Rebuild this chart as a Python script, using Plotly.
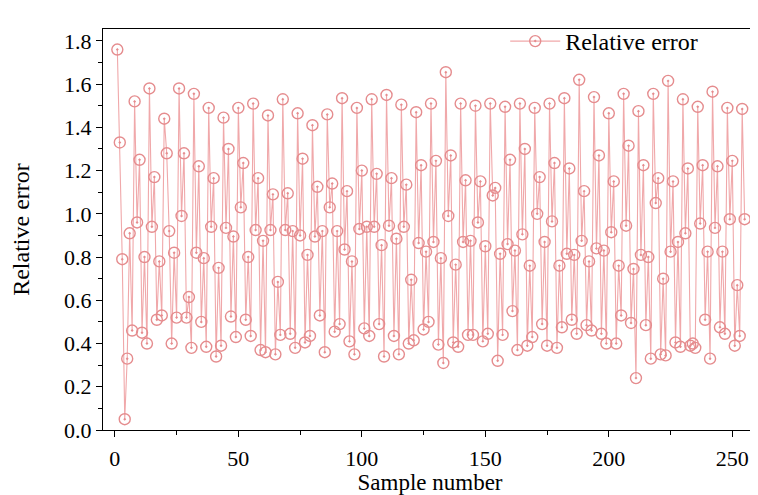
import plotly.graph_objects as go

sample_number = list(range(1, 256))

relative_error = [
    # 1-23
    1.76, 1.33, 0.79, 0.05, 0.33, 0.91, 0.46, 1.52, 0.96, 1.25, 0.45, 0.80, 0.40, 1.58, 0.94, 1.17, 0.51, 0.78, 0.53, 1.44, 1.28, 0.92, 0.40,
    # 24-50
    0.82, 0.52, 1.58, 0.99, 1.28, 0.52, 0.615, 0.38, 1.555, 0.82, 1.22, 0.50, 0.795, 0.385, 1.49, 0.94, 1.165, 0.34, 0.75, 0.39, 1.445, 0.935, 1.30, 0.525, 0.895, 0.43, 1.49,
    # 51-75
    1.03, 1.235, 0.51, 0.80, 0.435, 1.51, 0.925, 1.165, 0.37, 0.875, 0.36, 1.455, 0.925, 1.09, 0.35, 0.685, 0.44, 1.53, 0.925, 1.095, 0.445, 0.92, 0.38, 1.465, 0.90,
    # 76-101
    1.255, 0.405, 0.81, 0.435, 1.41, 0.895, 1.125, 0.53, 0.92, 0.36, 1.46, 1.03, 1.14, 0.455, 0.92, 0.49, 1.535, 0.835, 1.105, 0.41, 0.78, 0.35, 1.49, 0.93, 1.20, 0.47,
    # 102-128
    0.94, 0.435, 1.53, 0.94, 1.185, 0.49, 0.855, 0.34, 1.55, 0.945, 1.165, 0.435, 0.885, 0.35, 1.505, 0.94, 1.135, 0.40, 0.695, 0.415, 1.47, 0.865, 1.225, 0.465, 0.825, 0.50, 1.51,
    # 129-155
    0.87, 1.245, 0.395, 0.795, 0.31, 1.655, 0.99, 1.27, 0.405, 0.765, 0.385, 1.51, 0.87, 1.155, 0.44, 0.875, 0.44, 1.50, 0.96, 1.15, 0.41, 0.85, 0.445, 1.51, 1.085, 1.12, 0.32,
    # 156-180
    0.815, 0.44, 1.495, 0.86, 1.25, 0.55, 0.83, 0.37, 1.51, 0.905, 1.30, 0.39, 0.76, 0.43, 1.49, 1.00, 1.17, 0.49, 0.87, 0.39, 1.51, 0.965, 1.235, 0.38, 0.76,
    # 181-206
    0.475, 1.535, 0.815, 1.21, 0.51, 0.81, 0.445, 1.62, 0.875, 1.105, 0.485, 0.78, 0.46, 1.54, 0.84, 1.27, 0.445, 0.83, 0.40, 1.465, 0.915, 1.15, 0.40, 0.76, 0.53, 1.555,
    # 207-232
    0.945, 1.315, 0.495, 0.745, 0.24, 1.475, 0.81, 1.225, 0.485, 0.80, 0.33, 1.555, 1.05, 1.165, 0.35, 0.70, 0.345, 1.615, 0.825, 1.15, 0.405, 0.87, 0.385, 1.53, 0.91, 1.21,
    # 233-255
    0.39, 0.40, 0.38, 1.495, 0.955, 1.225, 0.51, 0.825, 0.33, 1.565, 0.935, 1.22, 0.475, 0.825, 0.445, 1.49, 0.975, 1.245, 0.39, 0.67, 0.435, 1.485, 0.975,
]

x_tick_values = [0, 50, 100, 150, 200, 250]
y_tick_values = [0.0, 0.2, 0.4, 0.6, 0.8, 1.0, 1.2, 1.4, 1.6, 1.8]
y_tick_labels = ["0.0", "0.2", "0.4", "0.6", "0.8", "1.0", "1.2", "1.4", "1.6", "1.8"]

FONT = "Liberation Serif, Times New Roman, serif"
RED = "#E58C8E"

fig = go.Figure()
fig.add_trace(go.Scatter(
    x=sample_number,
    y=relative_error,
    mode="lines+markers",
    name="Relative error",
    line=dict(color="#F0A8AA", width=1.1),
    marker=dict(symbol="circle-open-dot", size=11, color=RED, line=dict(width=1.4, color=RED)),
))

axis_common = dict(
    showline=True, linecolor="black", linewidth=1.3, mirror=True,
    ticks="outside", ticklen=6, tickwidth=1.3, tickcolor="black",
    showgrid=False, zeroline=False,
    tickfont=dict(family=FONT, size=22, color="black"),
)

fig.update_xaxes(
    range=[-4.8, 260],
    tickvals=x_tick_values,
    ticklabelstandoff=2,
    title=dict(text="Sample number", font=dict(family=FONT, size=23, color="black"), standoff=0),
    minor=dict(dtick=25, tick0=0, ticks="outside", ticklen=4, tickwidth=1.2, tickcolor="black"),
    **axis_common,
)
fig.update_yaxes(
    range=[0, 1.855],
    tickvals=y_tick_values,
    ticktext=y_tick_labels,
    title=dict(text="Relative error", font=dict(family=FONT, size=24, color="black"), standoff=28),
    minor=dict(dtick=0.1, tick0=0, ticks="outside", ticklen=4, tickwidth=1.2, tickcolor="black"),
    **axis_common,
)

fig.update_layout(
    width=750, height=487,
    margin=dict(l=95, r=1, t=21, b=65, autoexpand=False),
    paper_bgcolor="white", plot_bgcolor="white",
    showlegend=True,
    legend=dict(
        x=0.615, y=1.025, xanchor="left", yanchor="top",
        bgcolor="rgba(0,0,0,0)", borderwidth=0,
        font=dict(family=FONT, size=24, color="black"),
        itemwidth=50,
    ),
)

fig.write_html("out.html")
